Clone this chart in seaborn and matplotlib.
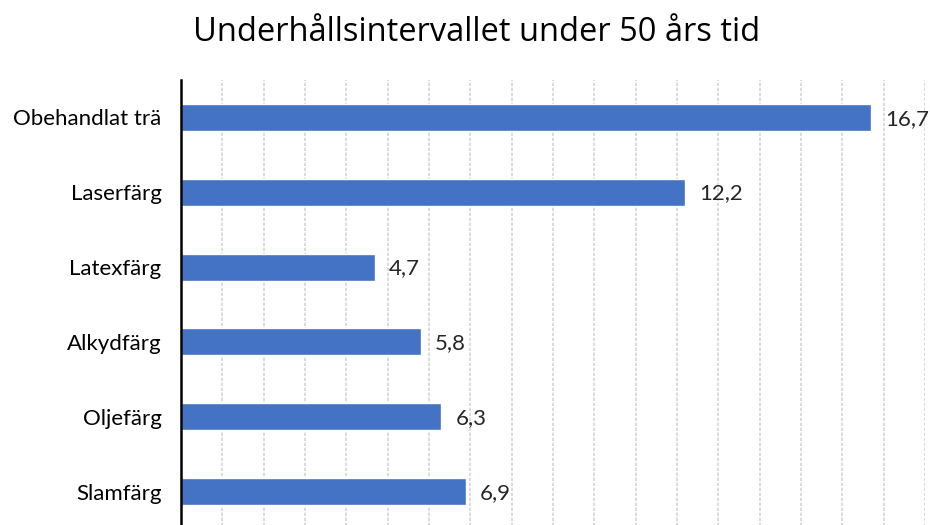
import matplotlib
matplotlib.use("Agg")
import matplotlib.pyplot as plt
import seaborn as sns
import pandas as pd

# Data
categories = ['Obehandlat trä', 'Laserfärg', 'Latexfärg', 'Alkydfärg', 'Oljefärg', 'Slamfärg']
years = [16.7, 12.2, 4.7, 5.8, 6.3, 6.9]
labels = ['16,7', '12,2', '4,7', '5,8', '6,3', '6,9']

df = pd.DataFrame({'Färg': categories, 'År': years})

sns.set_theme(style='white')
plt.rcParams['font.family'] = ['Lato', 'DejaVu Sans']

fig = plt.figure(figsize=(9.3, 5.25), dpi=100)
ax = fig.add_axes([0.1946, -0.008, 0.8, 0.856])

sns.barplot(data=df, x='År', y='Färg', color='#4472C4', width=0.36,
            saturation=1, ax=ax, zorder=3)

ax.set_xlim(0, 18)
ax.set_xticks(range(0, 19))
ax.xaxis.grid(True, color='#d4d4d4', linestyle=(0, (2, 1)), linewidth=1.2, zorder=0)
ax.set_axisbelow(True)
ax.tick_params(axis='x', length=0, labelbottom=False)
ax.tick_params(axis='y', length=0, labelsize=16, pad=14, colors='#000000')
ax.set_xlabel('')
ax.set_ylabel('')

for s in ['top', 'right', 'bottom']:
    ax.spines[s].set_visible(False)
ax.spines['left'].set_color('#000000')
ax.spines['left'].set_linewidth(1.8)
ax.spines['left'].set_zorder(5)

for i, (v, lab) in enumerate(zip(years, labels)):
    ax.annotate(lab, xy=(v, i), xytext=(10, -1), textcoords='offset points',
                ha='left', va='center', fontsize=16, color='#262626')

fig.suptitle('Underhållsintervallet under 50 års tid', x=0.512, y=0.97,
             fontsize=23.5, color='#000000', family=['Open Sans', 'DejaVu Sans'])

fig.savefig('out.png', dpi=100)
